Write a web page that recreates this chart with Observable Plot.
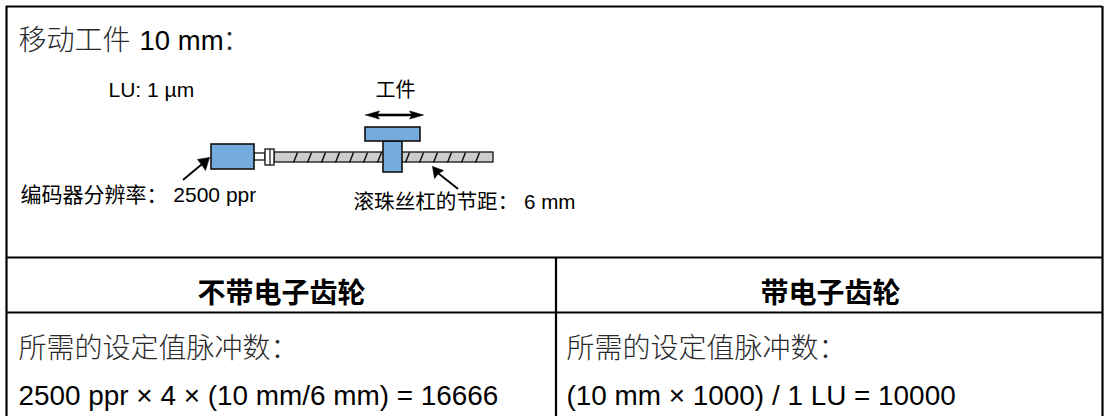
<!DOCTYPE html>
<html><head><meta charset="utf-8">
<script src="https://cdn.jsdelivr.net/npm/d3@7"></script>
<script src="https://cdn.jsdelivr.net/npm/@observablehq/plot@0.6"></script>
<style>
html,body{margin:0;padding:0;background:#fff;overflow:hidden}
svg{display:block;background:#fff}
</style></head><body>
<script>
const frameX = [6,1102];
const frameY = [6,416];
const rowLines = [257,312];
const colLine = [555.5];
const motor = [[211,254,144,169]];
const shaft = [[254,265,153,160]];
const coupling = [[265,274,149,165]];
const couplingSlit = [269.5];
const screw = [[274,493,152,162]];
const threadFeet = [293,307,321,335,349,363,377,405,419,433,447,461,475];
const tableTop = [[365,420,127,141]];
const tableStem = [[383,402,141,172]];
const travel = [[365,114.5],[379,110.5],[377,113.5],[411,113.5],[409,110.5],[423,114.5],[409,118.5],[411,115.5],[377,115.5],[379,118.5],[365,114.5]];
const arrowA = [[183,179],[201,164]];
const arrowAHead = [[209,157],[205,170],[201,164],[197,159],[209,157]];
const arrowB = [[457,188],[438,173]];
const arrowBHead = [[432,166],[443,170],[438,173],[434,178],[432,166]];
const latinLabels = [
 {t:"10 mm",x:139,y:41,s:27.5},
 {t:"LU: 1 µm",x:108,y:90,s:21},
 {t:"编码器分辨率： 2500 ppr",x:20,y:195,s:21},
 {t:"滚珠丝杠的节距： 6 mm",x:353,y:202,s:20.6},
 {t:"2500 ppr × 4 × (10 mm/6 mm) = 16666",x:18,y:396,s:27.9},
 {t:"(10 mm × 1000) / 1 LU = 10000",x:566,y:396,s:27.9}
];
const lightLabels = [
 {t:"移动工件",x:18,y:41,s:28},
 {t:"：",x:222,y:41,s:28},
 {t:"所需的设定值脉冲数：",x:18,y:349,s:28},
 {t:"所需的设定值脉冲数：",x:566,y:349,s:28}
];
const middleLabels = [{t:"工件",x:395,y:90,s:20}];
const headers = [
 {t:"不带电子齿轮",x:281,y:294,s:28},
 {t:"带电子齿轮",x:830,y:294,s:28}
];
const box = (rows,fill,sw=1.6)=>Plot.rect(rows,{x1:d=>d[0],x2:d=>d[1],y1:d=>d[2],y2:d=>d[3],fill,stroke:"#111",strokeWidth:sw});
const poly = pts=>Plot.line(pts,{x:d=>d[0],y:d=>d[1],fill:"#000",stroke:"#000",strokeWidth:0.6,curve:"linear"});
const seg = pts=>Plot.line(pts,{x:d=>d[0],y:d=>d[1],stroke:"#000",strokeWidth:1.8});
const txt = (rows,anchor,weight,fill="#000")=>Plot.text(rows,{x:"x",y:"y",text:"t",fontSize:"s",fontWeight:weight,textAnchor:anchor,fill,lineAnchor:"middle"});
const chart = Plot.plot({
  width:1104,height:416,margin:0,
  x:{domain:[0,1104],range:[0,1104],axis:null},
  y:{domain:[0,416],range:[0,416],axis:null},
  style:{background:"#fff",fontFamily:'"Liberation Sans","Noto Sans CJK SC",sans-serif'},
  marks:[
    Plot.ruleY([frameY[0]],{x1:frameX[0],x2:frameX[1],stroke:"#000",strokeWidth:2.2}),
    Plot.ruleX(frameX,{y1:frameY[0],y2:frameY[1],stroke:"#000",strokeWidth:2.2}),
    Plot.ruleY(rowLines,{x1:frameX[0],x2:frameX[1],stroke:"#000",strokeWidth:2.2}),
    Plot.ruleX(colLine,{y1:rowLines[0],y2:frameY[1],stroke:"#000",strokeWidth:2.2}),
    box(screw,"#cdcdcd",1.3),
    Plot.link(threadFeet,{x1:d=>d,x2:d=>d+4,y1:162,y2:152,stroke:"#111",strokeWidth:1.5}),
    box(shaft,"#fff",1.3),
    box(coupling,"#fff",1.3),
    Plot.ruleX(couplingSlit,{y1:149,y2:165,stroke:"#111",strokeWidth:1.2}),
    box(motor,"#76acdd"),
    box(tableStem,"#76acdd"),
    box(tableTop,"#76acdd"),
    poly(travel),
    seg(arrowA),poly(arrowAHead),
    seg(arrowB),poly(arrowBHead),
    txt(latinLabels,"start","normal"),
    txt(lightLabels,"start",300,"#2a2a2a"),
    txt(middleLabels,"middle","normal"),
    txt(headers,"middle","bold")
  ]
});
document.body.appendChild(chart);
</script>
</body></html>
